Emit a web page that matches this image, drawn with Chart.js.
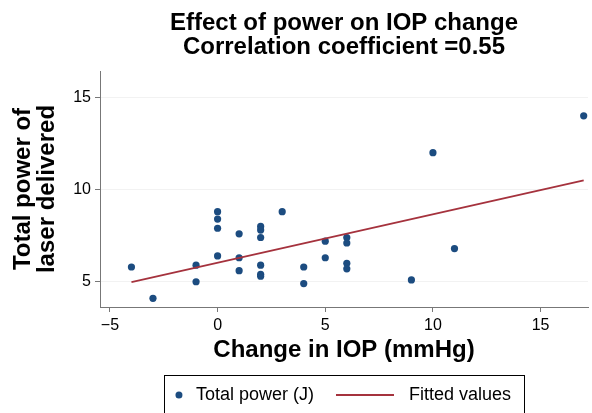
<!DOCTYPE html>
<html>
<head>
<meta charset="utf-8">
<script src="https://cdn.jsdelivr.net/npm/chart.js@4"></script>
<style>
  html, body { margin: 0; padding: 0; background: #fff; }
  #myChart { display: block; }
</style>
</head>
<body>
<canvas id="myChart" width="592" height="413"></canvas>
<script>
// data
const changeIOP = [-4, -3, -1, -1, 0, 0, 0, 0, 1, 1, 1, 2, 2, 2, 2, 2, 2, 3, 4, 4, 5, 5, 6, 6, 6, 6, 9, 10, 11, 17];
const totalPower = [5.8, 4.1, 5.9, 5.0, 8.8, 8.4, 7.9, 6.4, 7.6, 6.3, 5.6, 8.0, 7.8, 7.4, 5.9, 5.4, 5.3, 8.8, 5.8, 4.9, 7.2, 6.3, 7.4, 7.1, 6.0, 5.7, 5.1, 12.0, 6.8, 14.0];
const fitX = [-4, 17];
const fitY = [4.98, 10.5];
const xTicks = [-5, 0, 5, 10, 15];
const yTicks = [5, 10, 15];

const FONT = '"Liberation Sans", Arial, Helvetica, sans-serif';
const navy = '#1c4c80';
const maroon = '#a5323d';
const axisGrey = '#777777';

// legend drawn as a framed box under the x title, like the original
const legendBox = {
    id: 'legendBox',
    afterDraw(chart) {
        const ctx = chart.ctx;
        const area = chart.chartArea;
        const pts = chart.data.datasets[0];
        const fit = chart.data.datasets[1];
        ctx.save();
        ctx.font = '18px ' + FONT;
        const w1 = ctx.measureText(pts.label).width;
        const w2 = ctx.measureText(fit.label).width;
        const total = 140 + w1 + w2;
        const left = (area.left + area.right) / 2 - total / 2;
        const top = chart.height - 38;
        const cy = top + 20;

        ctx.strokeStyle = '#000';
        ctx.lineWidth = 1;
        ctx.strokeRect(Math.round(left) + 0.5, top + 0.5, Math.round(total), 60);

        let x = left + 15;
        ctx.fillStyle = pts.backgroundColor;
        ctx.beginPath();
        ctx.arc(x, cy, 3.5, 0, Math.PI * 2);
        ctx.fill();

        x += 17;
        ctx.fillStyle = '#000';
        ctx.textBaseline = 'middle';
        ctx.fillText(pts.label, x, cy);

        x += w1 + 22;
        ctx.strokeStyle = fit.borderColor;
        ctx.lineWidth = 2;
        ctx.beginPath();
        ctx.moveTo(x, cy);
        ctx.lineTo(x + 58, cy);
        ctx.stroke();

        x += 58 + 15;
        ctx.fillStyle = '#000';
        ctx.fillText(fit.label, x, cy);
        ctx.restore();
    }
};

const ctx = document.getElementById('myChart');

new Chart(ctx, {
    type: 'scatter',
    data: {
        datasets: [{
            label: 'Total power (J)',
            data: changeIOP.map((v, i) => ({x: v, y: totalPower[i]})),
            backgroundColor: navy,
            borderColor: navy,
            borderWidth: 0,
            pointRadius: 3.6,
            order: 1
        }, {
            type: 'line',
            label: 'Fitted values',
            data: fitX.map((v, i) => ({x: v, y: fitY[i]})),
            borderColor: maroon,
            backgroundColor: maroon,
            borderWidth: 1.8,
            pointRadius: 0,
            fill: false,
            showLine: true,
            order: 0
        }]
    },
    options: {
        responsive: false,
        animation: false,
        devicePixelRatio: 1,
        layout: {padding: {left: 0, right: 0, top: 0, bottom: 51}},
        plugins: {
            legend: {display: false},
            tooltip: {enabled: false},
            title: {
                display: true,
                fullSize: false,
                text: ['Effect of power on IOP change', 'Correlation coefficient =0.55'],
                color: '#000',
                font: {family: FONT, size: 24, weight: 'bold', lineHeight: 1.0},
                padding: {top: 11, bottom: 12}
            }
        },
        scales: {
            x: {
                type: 'linear',
                min: -5.46,
                max: 17.2,
                afterBuildTicks: (scale) => { scale.ticks = xTicks.map(v => ({value: v})); },
                afterFit: (scale) => { scale.height = 55; },
                ticks: {
                    color: '#000',
                    font: {family: FONT, size: 16},
                    padding: 4,
                    callback: (v) => String(v).replace('-', '\u2212')
                },
                grid: {drawOnChartArea: false, tickLength: 5, tickColor: axisGrey},
                border: {color: axisGrey, width: 1},
                title: {
                    display: true,
                    text: 'Change in IOP (mmHg)',
                    color: '#000',
                    font: {family: FONT, size: 24, weight: 'bold', lineHeight: 1.0},
                    padding: {top: 0, bottom: 0}
                }
            },
            y: {
                type: 'linear',
                min: 3.63,
                max: 16.43,
                afterBuildTicks: (scale) => { scale.ticks = yTicks.map(v => ({value: v})); },
                afterFit: (scale) => { scale.width = 100; },
                ticks: {
                    color: '#000',
                    font: {family: FONT, size: 16},
                    padding: 4
                },
                grid: {color: '#f2f2f2', tickLength: 5, tickColor: axisGrey},
                border: {color: axisGrey, width: 1},
                title: {
                    display: true,
                    text: ['Total power of', 'laser delivered'],
                    color: '#000',
                    font: {family: FONT, size: 24, weight: 'bold', lineHeight: 1.0},
                    padding: {top: 11, bottom: 0}
                }
            }
        }
    },
    plugins: [legendBox]
});
</script>
</body>
</html>
